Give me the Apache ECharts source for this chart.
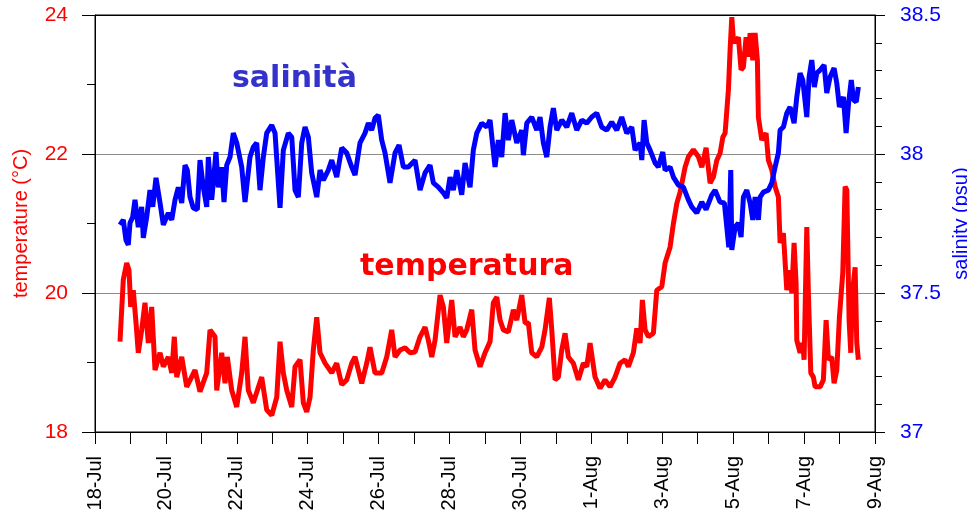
<!DOCTYPE html>
<html>
<head>
<meta charset="utf-8">
<script src="https://cdn.jsdelivr.net/npm/echarts@6/dist/echarts.min.js"></script>
<style>
  html, body { margin: 0; padding: 0; background: #fff; }
  #chart { width: 967px; height: 519px; }
</style>
</head>
<body>
<div id="chart"></div>
<script>
// x in days since 18-Jul 00:00
const dateLabels = ['18-Jul', '20-Jul', '22-Jul', '24-Jul', '26-Jul', '28-Jul',
  '30-Jul', '1-Aug', '3-Aug', '5-Aug', '7-Aug', '9-Aug'];

// temperatura (°C)
const tempDays = [0.705, 0.798, 0.894, 0.959, 1.007, 1.080, 1.157, 1.221, 1.317, 1.410,
  1.504, 1.599, 1.693, 1.834, 1.927, 2.068, 2.164, 2.237, 2.305, 2.446,
  2.587, 2.821, 2.962, 3.151, 3.244, 3.385, 3.433, 3.574, 3.667, 3.732,
  3.856, 3.997, 4.138, 4.231, 4.324, 4.465, 4.702, 4.843, 4.985, 5.126,
  5.219, 5.312, 5.408, 5.549, 5.642, 5.783, 5.876, 5.972, 6.065, 6.158,
  6.254, 6.347, 6.488, 6.677, 6.818, 6.959, 7.100, 7.241, 7.334, 7.523,
  7.664, 7.757, 7.898, 8.087, 8.228, 8.369, 8.463, 8.604, 8.745, 8.886,
  9.027, 9.168, 9.309, 9.402, 9.498, 9.591, 9.732, 9.825, 9.921, 10.062,
  10.155, 10.296, 10.389, 10.485, 10.626, 10.719, 10.860, 11.001, 11.142, 11.235,
  11.332, 11.425, 11.518, 11.659, 11.800, 11.896, 12.037, 12.130, 12.223, 12.319,
  12.460, 12.601, 12.694, 12.815, 12.883, 12.976, 13.069, 13.165, 13.258, 13.351,
  13.492, 13.633, 13.774, 13.870, 13.963, 14.104, 14.245, 14.386, 14.527, 14.668,
  14.810, 14.951, 15.044, 15.185, 15.281, 15.374, 15.439, 15.515, 15.608, 15.749,
  15.845, 15.986, 16.079, 16.220, 16.314, 16.410, 16.502, 16.643, 16.737, 16.878,
  17.019, 17.115, 17.236, 17.349, 17.442, 17.538, 17.630, 17.707, 17.772, 17.865,
  17.913, 17.961, 18.006, 18.054, 18.147, 18.223, 18.288, 18.364, 18.429, 18.477,
  18.553, 18.618, 18.683, 18.711, 18.807, 18.852, 18.928, 18.993, 19.089, 19.182,
  19.275, 19.323, 19.416, 19.512, 19.605, 19.653, 19.718, 19.774, 19.794, 19.887,
  19.963, 20.000, 20.076, 20.121, 20.189, 20.262, 20.310, 20.451, 20.544, 20.621,
  20.686, 20.781, 20.846, 20.922, 20.996, 21.091, 21.157, 21.205, 21.269, 21.317,
  21.362, 21.439, 21.486, 21.531];
const tempVals = [19.30, 20.19, 20.43, 20.33, 19.80, 20.04, 19.57, 19.14, 19.47, 19.86,
  19.28, 19.80, 18.89, 19.14, 18.94, 19.08, 18.85, 19.37, 18.79, 19.08,
  18.65, 18.89, 18.58, 18.85, 19.47, 19.37, 18.60, 19.14, 18.70, 19.08,
  18.60, 18.36, 18.85, 19.37, 18.60, 18.42, 18.79, 18.32, 18.24, 18.50,
  19.30, 18.85, 18.60, 18.36, 18.94, 19.04, 18.42, 18.29, 18.50, 19.18,
  19.65, 19.14, 18.99, 18.85, 18.99, 18.68, 18.75, 18.99, 19.08, 18.70,
  18.99, 19.22, 18.85, 18.85, 19.08, 19.47, 19.08, 19.18, 19.21, 19.14,
  19.15, 19.37, 19.51, 19.32, 19.08, 19.32, 19.97, 19.80, 19.28, 19.90,
  19.37, 19.51, 19.37, 19.47, 19.76, 19.18, 18.94, 19.14, 19.30, 19.86,
  19.94, 19.61, 19.47, 19.44, 19.76, 19.61, 19.97, 19.57, 19.57, 19.14,
  19.08, 19.22, 19.47, 19.93, 19.47, 18.75, 18.79, 19.18, 19.42, 19.08,
  18.99, 18.75, 18.99, 18.94, 19.28, 18.79, 18.63, 18.75, 18.65, 18.79,
  18.99, 19.04, 18.94, 19.14, 19.49, 19.28, 19.90, 19.47, 19.37, 19.42,
  20.04, 20.09, 20.43, 20.66, 21.00, 21.29, 21.45, 21.81, 21.96, 22.06,
  21.96, 21.81, 22.09, 21.58, 21.67, 21.91, 22.01, 22.24, 22.30, 22.92,
  23.50, 23.97, 23.64, 23.60, 23.68, 23.21, 23.25, 23.68, 23.40, 23.74,
  23.35, 23.74, 23.35, 22.53, 22.20, 22.24, 22.30, 21.91, 21.77, 21.53,
  21.38, 20.72, 20.86, 20.04, 20.33, 20.00, 20.72, 20.14, 19.32, 19.14,
  19.28, 19.04, 20.95, 20.00, 18.85, 18.79, 18.65, 18.65, 18.75, 19.61,
  19.04, 19.08, 18.70, 18.89, 19.65, 20.29, 21.53, 21.48, 19.61, 19.14,
  20.00, 20.37, 19.28, 19.04];

// salinità (psu)
const salDays = [0.705, 0.798, 0.874, 0.939, 0.987, 1.063, 1.128, 1.221, 1.317, 1.362,
  1.458, 1.551, 1.628, 1.721, 1.834, 1.927, 2.068, 2.164, 2.257, 2.350,
  2.446, 2.539, 2.604, 2.680, 2.773, 2.886, 2.962, 3.055, 3.151, 3.196,
  3.292, 3.413, 3.478, 3.574, 3.639, 3.715, 3.808, 3.901, 3.997, 4.138,
  4.231, 4.372, 4.465, 4.561, 4.654, 4.748, 4.843, 4.985, 5.078, 5.219,
  5.312, 5.453, 5.549, 5.642, 5.735, 5.831, 5.924, 6.017, 6.113, 6.254,
  6.347, 6.440, 6.581, 6.677, 6.818, 6.959, 7.100, 7.241, 7.334, 7.475,
  7.616, 7.710, 7.805, 7.898, 7.991, 8.087, 8.180, 8.321, 8.463, 8.575,
  8.697, 8.838, 9.027, 9.168, 9.309, 9.450, 9.543, 9.684, 9.825, 9.921,
  10.014, 10.107, 10.203, 10.344, 10.437, 10.578, 10.671, 10.767, 10.908, 11.049,
  11.142, 11.283, 11.377, 11.472, 11.566, 11.659, 11.755, 11.896, 12.037, 12.082,
  12.178, 12.319, 12.460, 12.553, 12.646, 12.742, 12.835, 12.928, 13.024, 13.165,
  13.306, 13.447, 13.588, 13.729, 13.870, 14.011, 14.152, 14.293, 14.434, 14.575,
  14.716, 14.857, 14.998, 15.139, 15.233, 15.374, 15.422, 15.487, 15.563, 15.656,
  15.797, 15.890, 16.014, 16.079, 16.220, 16.314, 16.455, 16.596, 16.737, 16.832,
  16.973, 17.115, 17.236, 17.397, 17.490, 17.630, 17.752, 17.820, 17.876, 17.932,
  17.961, 18.054, 18.147, 18.223, 18.288, 18.384, 18.477, 18.553, 18.618, 18.711,
  18.759, 18.852, 18.993, 19.089, 19.182, 19.275, 19.323, 19.416, 19.512, 19.605,
  19.718, 19.794, 19.887, 19.963, 20.076, 20.141, 20.217, 20.290, 20.358, 20.451,
  20.564, 20.640, 20.733, 20.846, 20.922, 20.996, 21.109, 21.185, 21.255, 21.331,
  21.396, 21.472, 21.531];
const salVals = [37.745, 37.763, 37.690, 37.673, 37.752, 37.773, 37.835, 37.737, 37.810, 37.698,
  37.773, 37.870, 37.810, 37.914, 37.824, 37.745, 37.788, 37.763, 37.835, 37.880,
  37.824, 37.960, 37.942, 37.845, 37.806, 37.800, 37.978, 37.880, 37.810, 37.989,
  37.835, 38.007, 37.880, 37.953, 37.827, 37.960, 37.989, 38.075, 38.040, 37.953,
  37.827, 37.989, 38.025, 38.040, 37.870, 37.989, 38.075, 38.104, 38.075, 37.806,
  38.014, 38.075, 38.061, 37.870, 37.845, 38.040, 38.097, 38.061, 37.932, 37.845,
  37.942, 37.906, 37.942, 37.978, 37.917, 38.022, 38.004, 37.953, 37.924, 38.040,
  38.075, 38.111, 38.086, 38.129, 38.140, 38.050, 38.004, 37.896, 38.004, 38.032,
  37.953, 37.953, 37.978, 37.870, 37.932, 37.960, 37.896, 37.881, 37.860, 37.842,
  37.917, 37.870, 37.942, 37.853, 37.968, 37.880, 38.014, 38.075, 38.111, 38.097,
  38.122, 37.953, 38.050, 37.989, 38.147, 38.050, 38.122, 38.040, 38.086, 37.996,
  38.111, 38.133, 38.086, 38.133, 38.040, 37.989, 38.097, 38.165, 38.086, 38.122,
  38.097, 38.147, 38.086, 38.122, 38.111, 38.133, 38.147, 38.097, 38.086, 38.115,
  38.086, 38.133, 38.075, 38.097, 38.014, 38.040, 37.978, 38.122, 38.040, 38.014,
  37.968, 37.953, 38.007, 37.942, 37.953, 37.917, 37.888, 37.881, 37.835, 37.810,
  37.788, 37.827, 37.800, 37.853, 37.870, 37.827, 37.824, 37.737, 37.665, 37.942,
  37.655, 37.737, 37.752, 37.701, 37.845, 37.870, 37.824, 37.763, 37.845, 37.763,
  37.845, 37.863, 37.870, 37.896, 37.953, 38.004, 38.086, 38.097, 38.147, 38.169,
  38.111, 38.205, 38.291, 38.266, 38.133, 38.277, 38.338, 38.241, 38.291, 38.302,
  38.320, 38.219, 38.277, 38.309, 38.255, 38.169, 38.205, 38.075, 38.183, 38.266,
  38.194, 38.187, 38.241];

const chart = echarts.init(document.getElementById('chart'));

const zip = (xs, ys) => xs.map((x, i) => [x, ys[i]]);

const option = {
  animation: false,
  grid: {
    left: 95,
    right: 92,
    top: 15,
    bottom: 87,
    outerBoundsMode: 'none',
    show: true,
    borderColor: '#000',
    borderWidth: 1,
  },
  xAxis: {
    type: 'value',
    min: 0,
    max: 22,
    interval: 2,
    axisLine: { lineStyle: { color: '#000', width: 1 } },
    axisTick: { length: 12, lineStyle: { color: '#000' } },
    minorTick: { show: true, splitNumber: 2, length: 12, lineStyle: { color: '#000' } },
    splitLine: { show: false },
    axisLabel: {
      rotate: 90,
      margin: 24,
      color: '#000',
      fontSize: 20,
      fontFamily: 'Liberation Sans',
      formatter: (v) => dateLabels[Math.round(v / 2)],
    },
  },
  yAxis: [
    {
      type: 'value',
      min: 18,
      max: 24,
      interval: 2,
      name: 'temperature (°C)',
      nameLocation: 'middle',
      nameGap: 64,
      nameTextStyle: { color: '#ff0000', fontSize: 20, fontFamily: 'Liberation Sans' },
      axisLine: { show: true, lineStyle: { color: '#000' } },
      axisTick: { length: 13, lineStyle: { color: '#000' } },
      minorTick: { show: true, splitNumber: 2, length: 8, lineStyle: { color: '#000' } },
      splitLine: { show: true, lineStyle: { color: ['#000', '#8c8c8c', '#8c8c8c', '#000'], width: 1 } },
      axisLabel: { color: '#ff0000', fontSize: 21, margin: 27, fontFamily: 'Liberation Sans' },
    },
    {
      type: 'value',
      min: 37,
      max: 38.5,
      interval: 0.5,
      position: 'right',
      name: 'salinity (psu)',
      nameLocation: 'middle',
      nameGap: 72,
      nameRotate: 90,
      nameTextStyle: { color: '#0000ff', fontSize: 20, fontFamily: 'Liberation Sans' },
      axisLine: { show: true, lineStyle: { color: '#000' } },
      axisTick: { length: 10, lineStyle: { color: '#000' } },
      minorTick: { show: true, splitNumber: 5, length: 7, lineStyle: { color: '#000' } },
      splitLine: { show: false },
      axisLabel: { color: '#0000ff', fontSize: 21, margin: 25, fontFamily: 'Liberation Sans' },
    },
  ],
  series: [
    {
      name: 'temperatura',
      type: 'line',
      yAxisIndex: 0,
      showSymbol: false,
      data: zip(tempDays, tempVals),
      lineStyle: { color: '#ff0000', width: 5 },
    },
    {
      name: 'salinità',
      type: 'line',
      yAxisIndex: 1,
      showSymbol: false,
      data: zip(salDays, salVals),
      lineStyle: { color: '#0000ff', width: 5 },
    },
  ],
  graphic: [
    {
      type: 'text',
      left: 232,
      top: 64,
      style: {
        text: 'salinità',
        fill: '#3333cc',
        font: 'bold 30px "DejaVu Sans"',
      },
    },
    {
      type: 'text',
      left: 360,
      top: 252,
      style: {
        text: 'temperatura',
        fill: '#ff0000',
        font: 'bold 30px "DejaVu Sans"',
      },
    },
  ],
};

chart.setOption(option);
</script>
</body>
</html>
